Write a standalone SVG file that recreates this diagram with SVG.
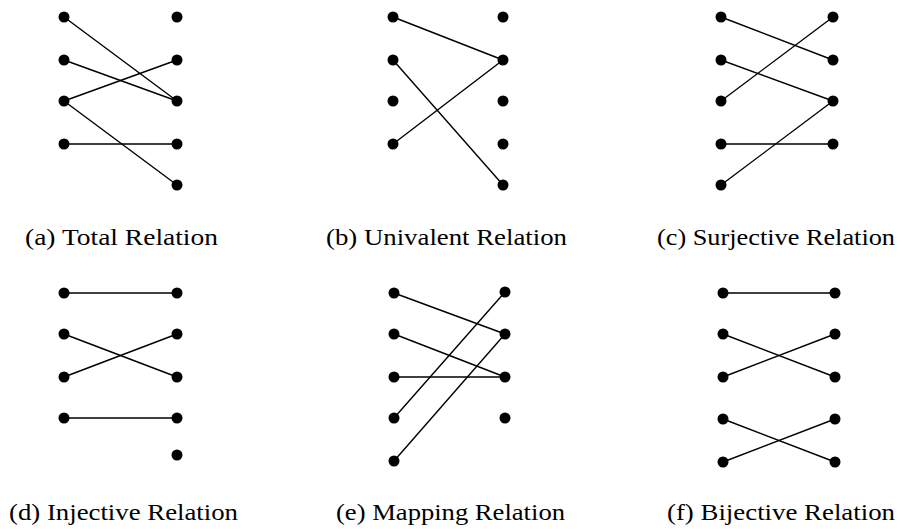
<svg xmlns="http://www.w3.org/2000/svg" width="905" height="529" viewBox="0 0 905 529">
<style>
.dot{fill:#000}
.edge{stroke:#000;stroke-width:1.4;fill:none;stroke-linecap:round}
.lbl{font-family:"Liberation Serif","DejaVu Serif",serif;font-size:24px;fill:#000}
</style>
<rect width="905" height="529" fill="#fff"/>
<g id="connectors">
<line class="edge" x1="64" y1="17" x2="177" y2="101"/>
<line class="edge" x1="64" y1="60" x2="177" y2="101"/>
<line class="edge" x1="64" y1="101" x2="177" y2="60"/>
<line class="edge" x1="64" y1="101" x2="177" y2="185"/>
<line class="edge" x1="64" y1="144" x2="177" y2="144"/>
<line class="edge" x1="393" y1="17" x2="503" y2="60"/>
<line class="edge" x1="393" y1="60" x2="503" y2="185"/>
<line class="edge" x1="393" y1="144" x2="503" y2="60"/>
<line class="edge" x1="721" y1="17" x2="833" y2="60"/>
<line class="edge" x1="721" y1="60" x2="833" y2="101"/>
<line class="edge" x1="721" y1="101" x2="833" y2="17"/>
<line class="edge" x1="721" y1="144" x2="833" y2="144"/>
<line class="edge" x1="721" y1="185" x2="833" y2="101"/>
<line class="edge" x1="64" y1="293" x2="177" y2="293"/>
<line class="edge" x1="64" y1="334" x2="177" y2="377"/>
<line class="edge" x1="64" y1="377" x2="177" y2="334"/>
<line class="edge" x1="64" y1="418" x2="177" y2="418"/>
<line class="edge" x1="394" y1="293" x2="505" y2="334"/>
<line class="edge" x1="394" y1="334" x2="505" y2="377"/>
<line class="edge" x1="394" y1="377" x2="505" y2="377"/>
<line class="edge" x1="394" y1="418" x2="505" y2="292"/>
<line class="edge" x1="394" y1="461" x2="505" y2="334"/>
<line class="edge" x1="723" y1="293" x2="835" y2="293"/>
<line class="edge" x1="723" y1="334" x2="835" y2="377"/>
<line class="edge" x1="723" y1="377" x2="835" y2="334"/>
<line class="edge" x1="723" y1="419" x2="835" y2="462"/>
<line class="edge" x1="723" y1="462" x2="835" y2="419"/>
</g>
<g id="a-L1"><circle class="dot" cx="64" cy="17" r="5.5"/></g>
<g id="a-L2"><circle class="dot" cx="64" cy="60" r="5.5"/></g>
<g id="a-L3"><circle class="dot" cx="64" cy="101" r="5.5"/></g>
<g id="a-L4"><circle class="dot" cx="64" cy="144" r="5.5"/></g>
<g id="a-R1"><circle class="dot" cx="177" cy="17" r="5.5"/></g>
<g id="a-R2"><circle class="dot" cx="177" cy="60" r="5.5"/></g>
<g id="a-R3"><circle class="dot" cx="177" cy="101" r="5.5"/></g>
<g id="a-R4"><circle class="dot" cx="177" cy="144" r="5.5"/></g>
<g id="a-R5"><circle class="dot" cx="177" cy="185" r="5.5"/></g>
<g id="b-L1"><circle class="dot" cx="393" cy="17" r="5.5"/></g>
<g id="b-L2"><circle class="dot" cx="393" cy="60" r="5.5"/></g>
<g id="b-L3"><circle class="dot" cx="393" cy="101" r="5.5"/></g>
<g id="b-L4"><circle class="dot" cx="393" cy="144" r="5.5"/></g>
<g id="b-R1"><circle class="dot" cx="503" cy="17" r="5.5"/></g>
<g id="b-R2"><circle class="dot" cx="503" cy="60" r="5.5"/></g>
<g id="b-R3"><circle class="dot" cx="503" cy="101" r="5.5"/></g>
<g id="b-R4"><circle class="dot" cx="503" cy="144" r="5.5"/></g>
<g id="b-R5"><circle class="dot" cx="503" cy="185" r="5.5"/></g>
<g id="c-L1"><circle class="dot" cx="721" cy="17" r="5.5"/></g>
<g id="c-L2"><circle class="dot" cx="721" cy="60" r="5.5"/></g>
<g id="c-L3"><circle class="dot" cx="721" cy="101" r="5.5"/></g>
<g id="c-L4"><circle class="dot" cx="721" cy="144" r="5.5"/></g>
<g id="c-L5"><circle class="dot" cx="721" cy="185" r="5.5"/></g>
<g id="c-R1"><circle class="dot" cx="833" cy="17" r="5.5"/></g>
<g id="c-R2"><circle class="dot" cx="833" cy="60" r="5.5"/></g>
<g id="c-R3"><circle class="dot" cx="833" cy="101" r="5.5"/></g>
<g id="c-R4"><circle class="dot" cx="833" cy="144" r="5.5"/></g>
<g id="d-L1"><circle class="dot" cx="64" cy="293" r="5.5"/></g>
<g id="d-L2"><circle class="dot" cx="64" cy="334" r="5.5"/></g>
<g id="d-L3"><circle class="dot" cx="64" cy="377" r="5.5"/></g>
<g id="d-L4"><circle class="dot" cx="64" cy="418" r="5.5"/></g>
<g id="d-R1"><circle class="dot" cx="177" cy="293" r="5.5"/></g>
<g id="d-R2"><circle class="dot" cx="177" cy="334" r="5.5"/></g>
<g id="d-R3"><circle class="dot" cx="177" cy="377" r="5.5"/></g>
<g id="d-R4"><circle class="dot" cx="177" cy="418" r="5.5"/></g>
<g id="d-R5"><circle class="dot" cx="177" cy="455" r="5.5"/></g>
<g id="e-L1"><circle class="dot" cx="394" cy="293" r="5.5"/></g>
<g id="e-L2"><circle class="dot" cx="394" cy="334" r="5.5"/></g>
<g id="e-L3"><circle class="dot" cx="394" cy="377" r="5.5"/></g>
<g id="e-L4"><circle class="dot" cx="394" cy="418" r="5.5"/></g>
<g id="e-L5"><circle class="dot" cx="394" cy="461" r="5.5"/></g>
<g id="e-R1"><circle class="dot" cx="505" cy="292" r="5.5"/></g>
<g id="e-R2"><circle class="dot" cx="505" cy="334" r="5.5"/></g>
<g id="e-R3"><circle class="dot" cx="505" cy="377" r="5.5"/></g>
<g id="e-R4"><circle class="dot" cx="505" cy="418" r="5.5"/></g>
<g id="f-L1"><circle class="dot" cx="723" cy="293" r="5.5"/></g>
<g id="f-L2"><circle class="dot" cx="723" cy="334" r="5.5"/></g>
<g id="f-L3"><circle class="dot" cx="723" cy="377" r="5.5"/></g>
<g id="f-L4"><circle class="dot" cx="723" cy="419" r="5.5"/></g>
<g id="f-L5"><circle class="dot" cx="723" cy="462" r="5.5"/></g>
<g id="f-R1"><circle class="dot" cx="835" cy="293" r="5.5"/></g>
<g id="f-R2"><circle class="dot" cx="835" cy="334" r="5.5"/></g>
<g id="f-R3"><circle class="dot" cx="835" cy="377" r="5.5"/></g>
<g id="f-R4"><circle class="dot" cx="835" cy="419" r="5.5"/></g>
<g id="f-R5"><circle class="dot" cx="835" cy="462" r="5.5"/></g>
<g id="labels">
<text class="lbl" x="25" y="245" textLength="193" lengthAdjust="spacingAndGlyphs">(a) Total Relation</text>
<text class="lbl" x="326" y="245" textLength="241" lengthAdjust="spacingAndGlyphs">(b) Univalent Relation</text>
<text class="lbl" x="657" y="245" textLength="238" lengthAdjust="spacingAndGlyphs">(c) Surjective Relation</text>
<text class="lbl" x="9" y="520" textLength="229" lengthAdjust="spacingAndGlyphs">(d) Injective Relation</text>
<text class="lbl" x="336" y="520" textLength="229" lengthAdjust="spacingAndGlyphs">(e) Mapping Relation</text>
<text class="lbl" x="667" y="520" textLength="228" lengthAdjust="spacingAndGlyphs">(f) Bijective Relation</text>
</g>
</svg>
